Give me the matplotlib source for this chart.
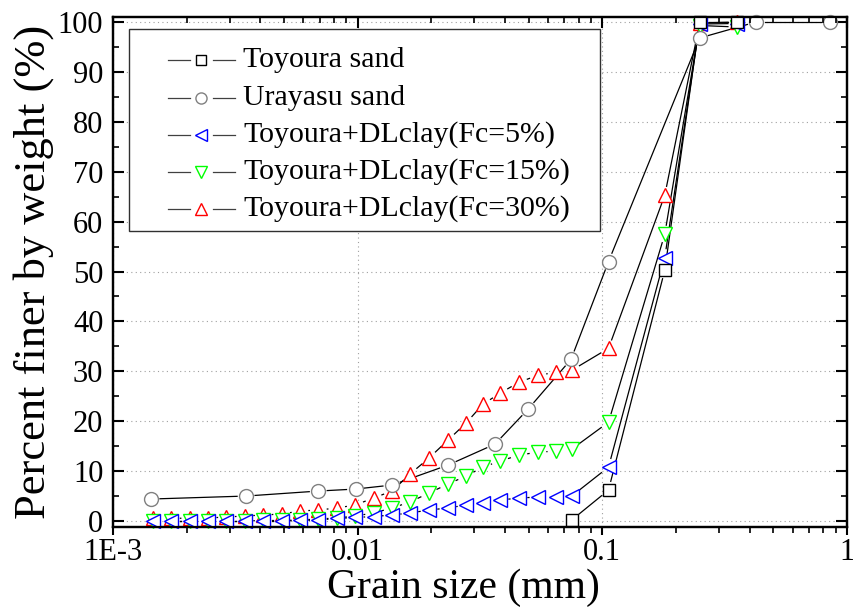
import numpy as np
import matplotlib.pyplot as plt
from matplotlib.patches import Rectangle
from matplotlib.ticker import MultipleLocator, LogLocator, NullFormatter

plt.rcParams['font.family'] = ['Liberation Serif', 'DejaVu Serif']

# grain sizes (mm)
fine_x = [0.001457, 0.001733, 0.00206, 0.002447, 0.00291, 0.00346, 0.004114,
          0.004892, 0.00581, 0.006909, 0.008216, 0.009768, 0.01161, 0.01381,
          0.01636, 0.01956, 0.02339, 0.02771, 0.03251, 0.03817, 0.04561,
          0.05456, 0.06462, 0.075]
sieve_x = [0.106, 0.18, 0.25, 0.355]
mix_x = fine_x + sieve_x

toyoura_x = [0.075, 0.106, 0.18, 0.25, 0.355]
toyoura_y = [0.2, 6.2, 50.3, 100, 100]

urayasu_x = [0.00143, 0.0035, 0.0069, 0.0098, 0.0138, 0.0234, 0.0364, 0.0497,
             0.0745, 0.106, 0.25, 0.425, 0.85]
urayasu_y = [4.4, 5.0, 6.0, 6.4, 7.2, 11.2, 15.4, 22.4, 32.4, 52.0, 96.8, 100, 100]

fc5_y = [0, 0, 0, 0, 0, 0, 0, 0, 0.1, 0.2, 0.5, 0.7, 0.9, 1.2, 1.6, 2.2, 2.6,
         3.2, 3.7, 4.2, 4.6, 4.8, 4.8, 5.0, 10.8, 52.8, 99.6, 99.7]
fc15_y = [0, 0, 0, 0, 0, 0, 0.1, 0.1, 0.2, 0.4, 0.6, 1.0, 1.6, 2.6, 3.8, 5.6,
          7.4, 9.0, 10.8, 12.0, 13.2, 13.8, 14.0, 14.4, 19.8, 57.5, 99.3, 99.0]
fc30_y = [0.5, 0.5, 0.6, 0.6, 0.8, 1.0, 1.2, 1.4, 2.0, 2.2, 2.6, 3.2, 4.6, 6.0,
          9.4, 12.6, 16.2, 19.6, 23.4, 25.6, 27.8, 29.2, 29.8, 30.2, 34.6,
          65.3, 99.8, 100]

labels = ['Toyoura sand', 'Urayasu sand', 'Toyoura+DLclay(Fc=5%)',
          'Toyoura+DLclay(Fc=15%)', 'Toyoura+DLclay(Fc=30%)']

# label, x, y, marker, colour, size, zorder
series = [
    (labels[4], mix_x, fc30_y, '^', '#ff0000', 10.5, 3),
    (labels[3], mix_x, fc15_y, 'v', '#00ff00', 10.5, 4),
    (labels[2], mix_x, fc5_y, '<', '#0000ff', 10.5, 5),
    (labels[1], urayasu_x, urayasu_y, 'o', '#808080', 10, 6),
    (labels[0], toyoura_x, toyoura_y, 's', '#000000', 8.6, 7),
]

fig = plt.figure(figsize=(8.54, 6.10), dpi=100)
ax = fig.add_axes([0.1323, 0.1361, 0.8595, 0.836])
ax.set_xscale('log')
ax.set_xlim(1e-3, 1)
ax.set_ylim(-1.2, 101)


def gapped_line(ax, x, y, gap=9):
    # connecting lines stop short of the symbols
    pts = ax.transData.transform(np.column_stack([x, y]))
    inv = ax.transData.inverted()
    for p0, p1 in zip(pts[:-1], pts[1:]):
        d = p1 - p0
        L = np.hypot(*d)
        if L <= 2 * gap:
            continue
        u = d / L
        a = inv.transform(p0 + u * gap)
        b = inv.transform(p1 - u * gap)
        ax.plot([a[0], b[0]], [a[1], b[1]], color='black', lw=0.9, zorder=2)


for lab, x, y, m, c, ms, z in series:
    gapped_line(ax, x, y)
    ax.plot(x, y, ls='none', marker=m, ms=ms, mfc='white', mec=c, mew=1.0,
            zorder=z, clip_on=False)

ax.grid(True, which='major', linestyle=(0, (1, 3)), color='#a0a0a0', lw=0.8)

ax.yaxis.set_major_locator(MultipleLocator(10))
ax.yaxis.set_minor_locator(MultipleLocator(5))
ax.tick_params(axis='y', which='both', direction='in', left=True, right=True,
               labelsize=22, pad=7)
ax.tick_params(axis='y', which='major', length=8, width=1.5)
ax.tick_params(axis='y', which='minor', length=4, width=1.2)

ax.set_xticks([1e-3, 1e-2, 1e-1, 1])
ax.set_xticklabels(['1E-3', '0.01', '0.1', '1'])
ax.xaxis.set_minor_locator(LogLocator(base=10, subs=np.arange(2, 10)))
ax.xaxis.set_minor_formatter(NullFormatter())
ax.tick_params(axis='x', which='both', direction='out', bottom=True, top=False,
               labelsize=22, pad=2)
ax.tick_params(axis='x', which='major', length=6, width=1.5)
ax.tick_params(axis='x', which='minor', length=4, width=1.2)

top = ax.twiny()
top.set_xscale('log')
top.set_xlim(ax.get_xlim())
top.set_xticks([1e-3, 1e-2, 1e-1, 1])
top.xaxis.set_minor_locator(LogLocator(base=10, subs=np.arange(2, 10)))
top.xaxis.set_minor_formatter(NullFormatter())
top.tick_params(axis='x', which='both', direction='in', labeltop=False)
top.tick_params(axis='x', which='major', length=8, width=1.5)
top.tick_params(axis='x', which='minor', length=4, width=1.2)

for a in (ax, top):
    for s in a.spines.values():
        s.set_linewidth(1.6)

ax.set_xlabel('Grain size (mm)', fontsize=30)
ax.xaxis.set_label_coords(0.478, -0.082)
ax.set_ylabel('Percent finer by weight (%)', fontsize=32)
ax.yaxis.set_label_coords(-0.081, 0.5)

# legend drawn by hand: line - symbol - line, then the label
box = Rectangle((0.0218, 0.5804), 0.6417, 0.3961, transform=top.transAxes,
                facecolor='white', edgecolor='#303030', lw=1.0, zorder=8)
top.add_patch(box)

style = {lab: (m, c) for lab, x, y, m, c, ms, z in series}
leg_ms = {'s': 7, 'o': 8, '<': 8, 'v': 8, '^': 8}
row_y = [0.9157, 0.8412, 0.7686, 0.6961, 0.6235]
for lab, yy in zip(labels, row_y):
    m, c = style[lab]
    tr = top.transAxes
    top.plot([0.0749, 0.1049], [yy, yy], color='#404040', lw=0.9, transform=tr, zorder=9)
    top.plot([0.1362, 0.1662], [yy, yy], color='#404040', lw=0.9, transform=tr, zorder=9)
    top.plot([0.1199], [yy], ls='none', marker=m, ms=leg_ms[m], mfc='white', mec=c,
             mew=1.0, transform=tr, zorder=9)
    top.text(0.1771, yy, lab, fontsize=21.5, va='center', ha='left',
             transform=tr, zorder=9)

fig.savefig('out.png', dpi=100)
